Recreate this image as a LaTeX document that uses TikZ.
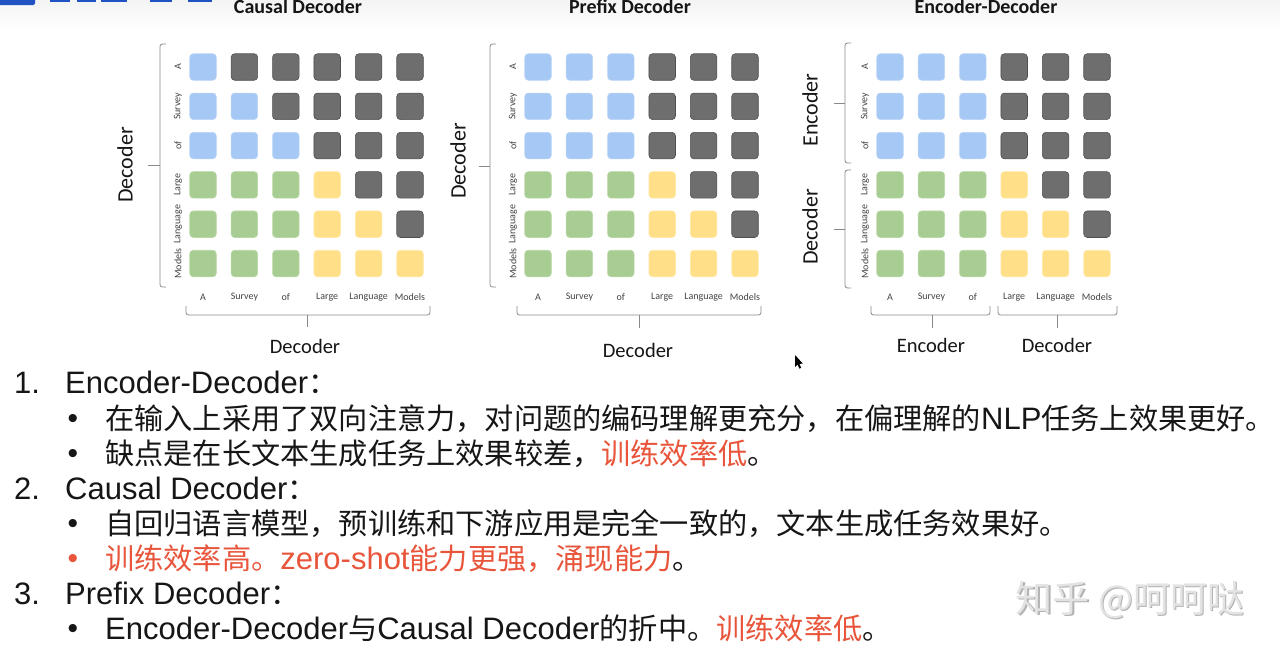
\documentclass[tikz,border=0pt]{standalone}
\usepackage{fontspec}
\newfontfamily\calfont{Carlito}
\newfontfamily\enfont{Liberation Sans}
\newfontfamily\zhfont{Noto Sans CJK SC}
\newcommand\EN{\enfont\fontsize{31}{36}\selectfont}
\newcommand\ZH{\zhfont\fontsize{29.2}{36}\selectfont}
\definecolor{cB}{HTML}{A6C8F4}
\definecolor{dB}{HTML}{BCD6F8}
\definecolor{cG}{HTML}{6E6E6E}
\definecolor{dG}{HTML}{505050}
\definecolor{cN}{HTML}{A8CD93}
\definecolor{dN}{HTML}{B9D8A6}
\definecolor{cY}{HTML}{FFDF88}
\definecolor{dY}{HTML}{FFE8A8}
\definecolor{redtxt}{HTML}{E8553B}
\definecolor{txt}{HTML}{161616}
\definecolor{brkcol}{HTML}{8A8A8A}
\definecolor{logo}{HTML}{2152C4}
\definecolor{lab}{HTML}{444444}
\newcommand\drawgrid[3]{%
  \foreach \rowpat [count=\i] in {#3} {
    \foreach \cc [count=\j] in \rowpat {
      \node[sq=\cc] (#1-\i-\j) at ({#2+41.4*(\j-1)},{67+39.3*(\i-1)}) {};
    }
  }
  \foreach \t [count=\i] in {A,Survey,of,Large,Language,Models} {
    \node[rowlab] (#1-r\i) at ({#2-25},{67+39.3*(\i-1)}) {\t};
    \node[collab] (#1-c\i) at ({#2+41.4*(\i-1)},297) {\t};
  }
}
\begin{document}
\begin{tikzpicture}[x=1pt,y=-1pt,
  sq/.style={rounded corners=3.5pt, minimum size=26.5pt, inner sep=0pt, fill=c#1, draw=d#1, line width=0.6pt},
  rowlab/.style={rotate=90, inner sep=0pt, text=lab, font=\calfont\fontsize{10}{11}\selectfont},
  collab/.style={inner sep=0pt, text=lab, font=\calfont\fontsize{10}{11}\selectfont},
  title/.style={anchor=base, inner sep=0pt, text=txt, font=\calfont\bfseries\fontsize{20}{22}\selectfont},
  sidelab/.style={rotate=90, inner sep=0pt, text=txt, font=\calfont\fontsize{22}{26}\selectfont},
  botlab/.style={inner sep=0pt, text=txt, font=\calfont\fontsize{20.5}{24}\selectfont},
  brk/.style={draw=brkcol, line width=0.8pt, rounded corners=2.5pt},
  body/.style={anchor=base west, inner sep=0pt, text=txt, font=\ZH},
  bul/.style={anchor=base, inner sep=0pt, text=txt, font=\enfont\fontsize{30}{30}\selectfont},
  wm/.style={inner sep=0pt, font=\zhfont\fontsize{37}{40}\selectfont}
]
\useasboundingbox (0,0) rectangle (1280,651);
\fill[white] (0,0) rectangle (1280,651);
\shade[top color=gray!9, bottom color=white] (0,0) rectangle (1280,30);
% logo fragment
\fill[logo, rounded corners=2pt] (-6,-10) rectangle (35,5);
\fill[logo] (50,-2) rectangle (70,2);
\fill[logo] (77,-2) rectangle (96,2.4);
\fill[logo] (101,-2) rectangle (127,2.2);
\fill[logo] (150,-2) rectangle (172,2);
\fill[logo] (188,-2) rectangle (212,2.4);

% titles
\node[title] (t1) at (298,13.5) {Causal Decoder};
\node[title] (t2) at (630,13.5) {Prefix Decoder};
\node[title] (t3) at (986,13.5) {Encoder-Decoder};

% grids
\drawgrid{cd}{203}{{B,G,G,G,G,G},{B,B,G,G,G,G},{B,B,B,G,G,G},{N,N,N,Y,G,G},{N,N,N,Y,Y,G},{N,N,N,Y,Y,Y}}
\drawgrid{pd}{538}{{B,B,B,G,G,G},{B,B,B,G,G,G},{B,B,B,G,G,G},{N,N,N,Y,G,G},{N,N,N,Y,Y,G},{N,N,N,Y,Y,Y}}
\drawgrid{ed}{890}{{B,B,B,G,G,G},{B,B,B,G,G,G},{B,B,B,G,G,G},{N,N,N,Y,G,G},{N,N,N,Y,Y,G},{N,N,N,Y,Y,Y}}

% brackets causal
\draw[brk] (166,44) -- (160,44) -- (160,287) -- (166,287);
\draw[brk] (160,165) -- (148,165);
\draw[brk] (186,306) -- (186,315) -- (430,315) -- (430,306);
\draw[brk] (307,315) -- (307,327);
% brackets prefix
\draw[brk] (496,44) -- (490,44) -- (490,287) -- (496,287);
\draw[brk] (490,166) -- (479,166);
\draw[brk] (517,306) -- (517,315) -- (761,315) -- (761,306);
\draw[brk] (639,315) -- (639,328);
% brackets encoder-decoder
\draw[brk] (851,43) -- (845,43) -- (845,163) -- (851,163);
\draw[brk] (845,103) -- (834,103);
\draw[brk] (851,170) -- (845,170) -- (845,288) -- (851,288);
\draw[brk] (845,229) -- (834,229);
\draw[brk] (871,306) -- (871,315) -- (990,315) -- (990,306);
\draw[brk] (932,315) -- (932,328);
\draw[brk] (998,306) -- (998,315) -- (1117,315) -- (1117,306);
\draw[brk] (1057,315) -- (1057,328);

% side and bottom labels
\node[sidelab] (cdL) at (125,165) {Decoder};
\node[botlab] (cdB) at (305,346) {Decoder};
\node[sidelab] (pdL) at (458,161) {Decoder};
\node[botlab] (pdB) at (638,350) {Decoder};
\node[sidelab] (edL1) at (810,110) {Encoder};
\node[sidelab] (edL2) at (810,227) {Decoder};
\node[botlab] (edB1) at (931,345) {Encoder};
\node[botlab] (edB2) at (1057,345) {Decoder};

% cursor
\fill[black] (795,355) -- (795,367) -- (797.6,364.6) -- (799.4,368.6) -- (801.2,367.8) -- (799.4,363.9) -- (802.8,363.6) -- cycle;

% text
\node[body] (n1) at (14,393) {\EN 1.};
\node[body] (h1) at (65,393) {\EN Encoder-Decoder\ZH ：};
\node[bul] (b1) at (73,428) {•};
\node[body] (l1) at (105,429) {在输入上采用了双向注意力，对问题的编码理解更充分，在偏理解的\EN NLP\ZH 任务上效果更好。};
\node[bul] (b2) at (73,463) {•};
\node[body] (l2) at (105,464) {缺点是在长文本生成任务上效果较差，\textcolor{redtxt}{训练效率低}。};
\node[body] (n2) at (14,499) {\EN 2.};
\node[body] (h2) at (65,499) {\EN Causal Decoder\ZH ：};
\node[bul] (b3) at (73,533) {•};
\node[body] (l3) at (105,534) {自回归语言模型，预训练和下游应用是完全一致的，文本生成任务效果好。};
\node[bul, text=redtxt] (b4) at (73,568) {•};
\node[body] (l4) at (105,569) {\color{redtxt}训练效率高。\EN zero-shot\ZH 能力更强，涌现能力\color{txt}。};
\node[body] (n3) at (14,604) {\EN 3.};
\node[body] (h3) at (65,604) {\EN Prefix Decoder\ZH ：};
\node[bul] (b5) at (73,638) {•};
\node[body] (l5) at (105,639) {\EN Encoder-Decoder\ZH 与\EN Causal Decoder\ZH 的折中。\textcolor{redtxt}{训练效率低}。};

% watermark
\node[wm, text=gray!60] (wms) at (1131.2,601.2) {知乎 @呵呵哒};
\node[wm, text=gray!22] (wmt) at (1130,600) {知乎 @呵呵哒};
\end{tikzpicture}
\end{document}
